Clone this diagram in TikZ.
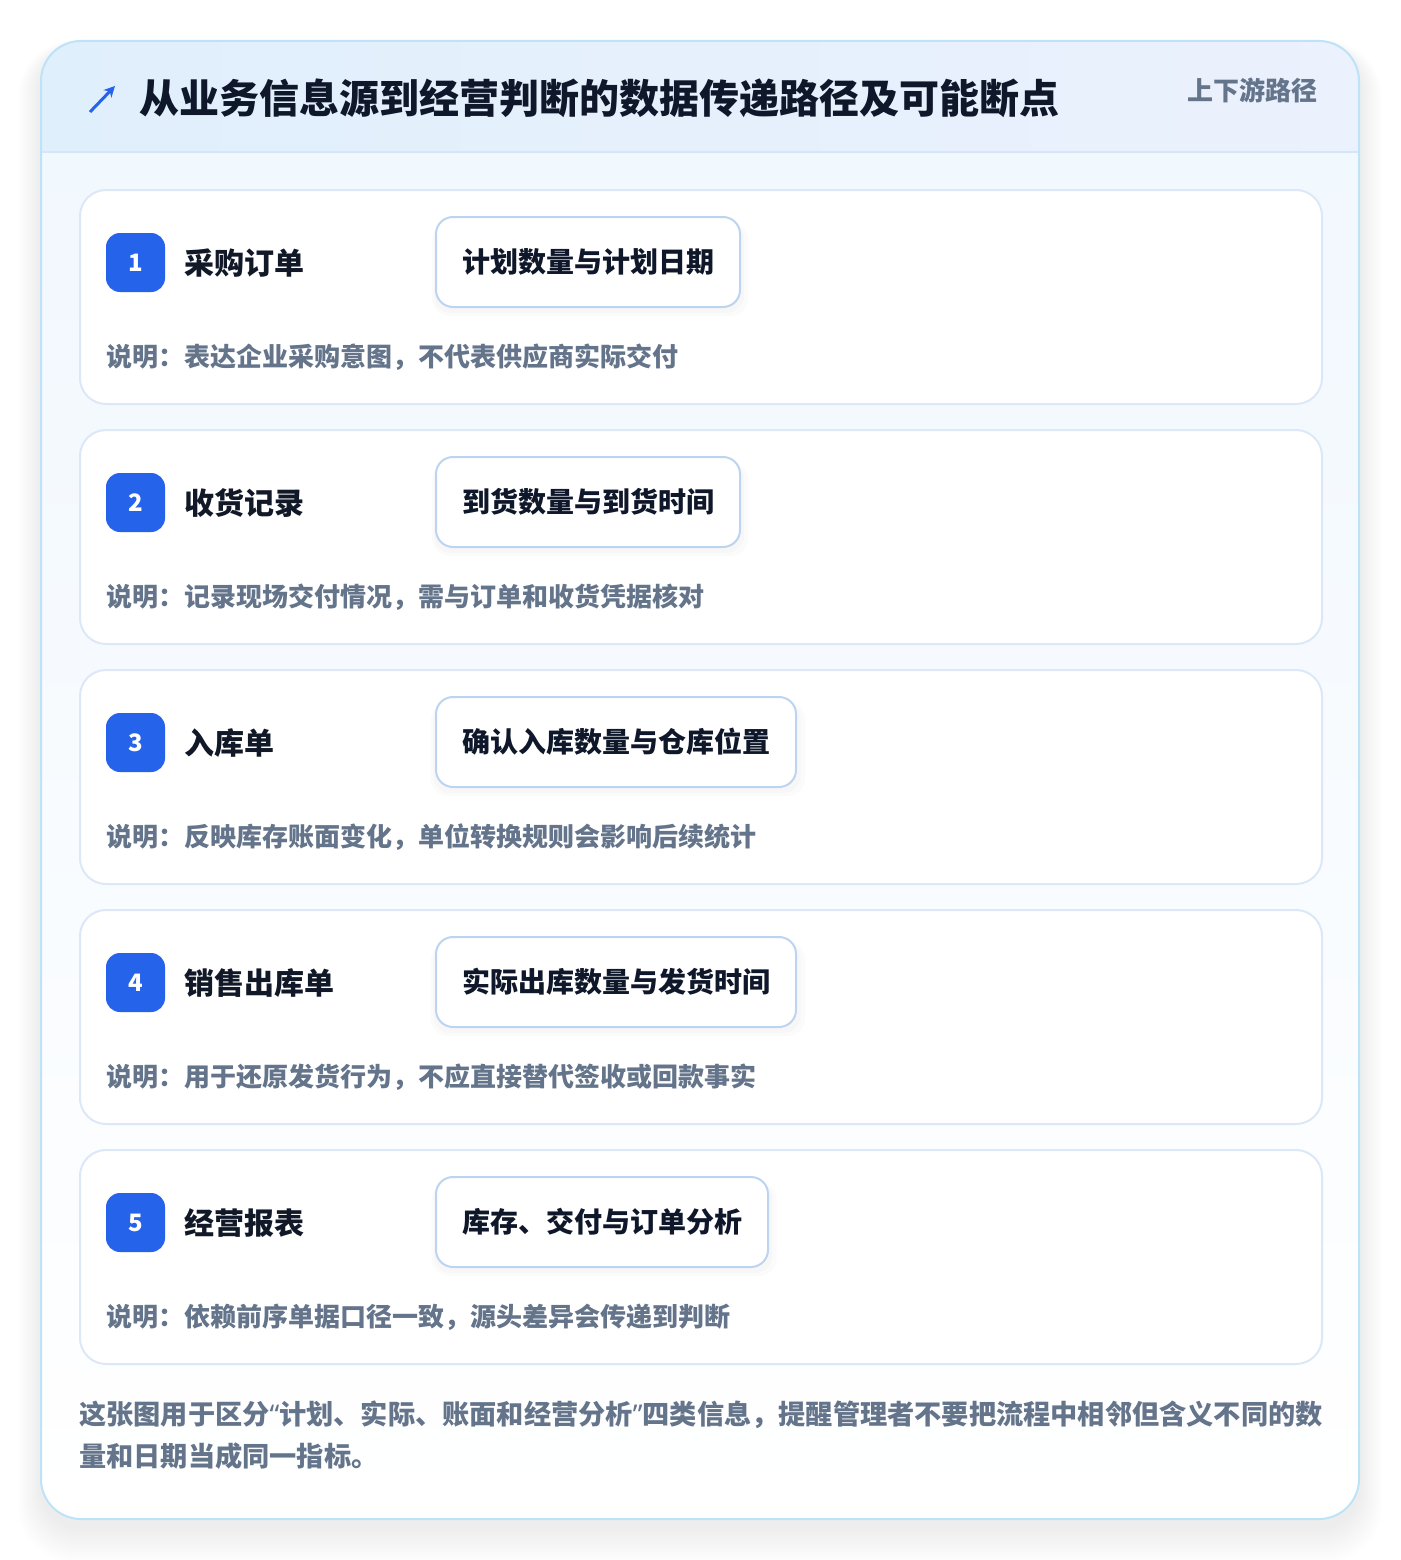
\documentclass[tikz,border=0pt]{standalone}
\usepackage{fontspec}
\setmainfont{Noto Sans CJK SC}
\newfontfamily\latinq{Noto Sans}
\usetikzlibrary{arrows.meta,shadows}
\definecolor{titlec}{HTML}{0F172A}
\definecolor{labc}{HTML}{111827}
\definecolor{descc}{HTML}{64748B}
\definecolor{blue}{HTML}{2563EB}
\definecolor{cardb}{HTML}{DCE8F7}
\definecolor{pillb}{HTML}{BDD4F1}
\definecolor{panelb}{HTML}{BEE2F7}
\definecolor{hdrL}{HTML}{E0EFFC}
\definecolor{hdrR}{HTML}{EBF1FD}
\definecolor{hdrline}{HTML}{D5E6F8}
\definecolor{paneltop}{HTML}{F0F7FE}
\newcommand{\myOpenQ}{{\latinq\bfseries “}}
\newcommand{\myCloseQ}{{\latinq\bfseries ”}}
\begin{document}
\begin{tikzpicture}[x=1pt,y=-1pt,
  card/.style={draw=cardb,line width=2pt,fill=white,rounded corners=26pt,inner sep=0pt},
  badge/.style={fill=blue,rounded corners=14pt,minimum size=59pt,inner sep=0pt,text=white,font=\bfseries\fontsize{24}{26}\selectfont},
  lab/.style={inner sep=0pt,text=labc,font=\bfseries\fontsize{30}{34}\selectfont},
  pill/.style={draw=pillb,line width=2pt,fill=white,rounded corners=17pt,inner xsep=26pt,inner ysep=0pt,minimum height=90pt,text=titlec,font=\bfseries\fontsize{28}{32}\selectfont,
    general shadow={fill=black,opacity=0.016,shadow xshift=2pt,shadow yshift=-7pt,shadow scale=1.04},
    general shadow={fill=black,opacity=0.016,shadow xshift=1pt,shadow yshift=-5pt,shadow scale=1.02}},
  desc/.style={inner sep=0pt,text=descc,font=\bfseries\fontsize{26}{30}\selectfont},
  foot/.style={inner sep=0pt,text=descc,font=\bfseries\fontsize{27.2}{41}\selectfont,anchor=west}
]
\useasboundingbox (0,0) rectangle (1400,1560);
\fill[white] (0,0) rectangle (1400,1560);
% panel shadow
\foreach \i in {1,...,18}{
  \fill[black,opacity=0.0042,rounded corners=40pt+\i pt]
    (41-1.3*\i,41-0.5*\i+8) rectangle (1359+1.3*\i,1519+2*\i+8);
}
% panel
\node[draw=none,rounded corners=40pt,minimum width=1318pt,minimum height=1478pt,inner sep=0pt,
  top color=paneltop,bottom color=white] (panel) at (700,780) {};
\begin{scope}
  \clip[rounded corners=40pt] (41,41) rectangle (1359,1519);
  \fill[left color=hdrL,right color=hdrR] (41,41) rectangle (1359,152);
  \draw[hdrline,line width=2pt] (41,152) -- (1359,152);
\end{scope}
\node[draw=panelb,line width=2pt,rounded corners=40pt,minimum width=1318pt,minimum height=1478pt,inner sep=0pt] (frame) at (700,780) {};
% header
\coordinate (arrS) at (90,112);
\coordinate (arrE) at (115,86);
\draw[blue,line width=3pt,-{Stealth[length=11pt,width=11pt]}] (arrS) -- (arrE);
\node[anchor=west,inner sep=0pt,text=titlec,font=\bfseries\fontsize{40}{44}\selectfont] (title) at (139,98) {从业务信息源到经营判断的数据传递路径及可能断点};
\node[anchor=east,inner sep=0pt,text=descc,font=\bfseries\fontsize{26}{30}\selectfont] (tag) at (1318,90) {上下游路径};
% cards
\foreach \i/\lab/\pil/\des in {
  1/采购订单/计划数量与计划日期/说明：表达企业采购意图，不代表供应商实际交付,
  2/收货记录/到货数量与到货时间/说明：记录现场交付情况，需与订单和收货凭据核对,
  3/入库单/确认入库数量与仓库位置/说明：反映库存账面变化，单位转换规则会影响后续统计,
  4/销售出库单/实际出库数量与发货时间/说明：用于还原发货行为，不应直接替代签收或回款事实,
  5/经营报表/库存、交付与订单分析/说明：依赖前序单据口径一致，源头差异会传递到判断}{
  \pgfmathsetmacro\yy{189+240*(\i-1)}
  \node[card,minimum width=1242pt,minimum height=214pt,anchor=north west] (card\i) at (79,\yy) {};
  \node[badge] (badge\i) at (135.5,\yy+73.5) {\i};
  \node[lab,anchor=west] (label\i) at (184,\yy+74) {\lab};
  \node[pill,anchor=west] (pill\i) at (435,\yy+73) {\pil};
  \node[desc,anchor=west] (desc\i) at (106,\yy+168) {\des};
}
% footer
\node[foot] (foot1) at (79,1415) {这张图用于区分\myOpenQ 计划、实际、账面和经营分析\myCloseQ 四类信息，提醒管理者不要把流程中相邻但含义不同的数};
\node[foot] (foot2) at (79,1456) {量和日期当成同一指标。};
\end{tikzpicture}
\end{document}
